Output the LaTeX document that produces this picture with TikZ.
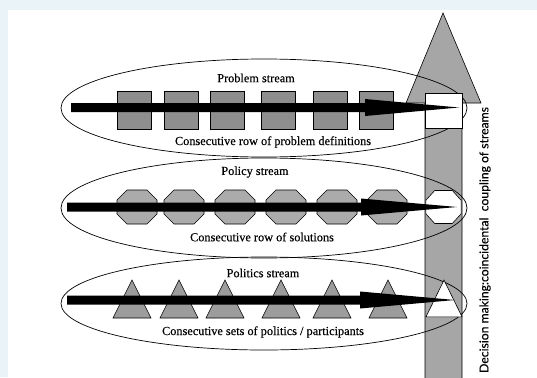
\documentclass[tikz,border=0pt]{standalone}
\usepackage{fontspec}
\setmainfont{Liberation Serif}
\newfontfamily\lblfont{Liberation Serif}[FakeBold=0.3]
\newfontfamily\vfont{Lato}[FakeBold=0.2]
\usetikzlibrary{shapes.geometric,calc}
\definecolor{bgblue}{HTML}{EAF3F7}
\definecolor{bigarrow}{HTML}{A6A6A6}
\definecolor{sqgray}{HTML}{8E8E8E}
\definecolor{octgray}{HTML}{ABABAB}
\definecolor{trigray}{HTML}{9C9C9C}
\tikzset{
  sqr/.pic={\path[pic actions] (-17,-19) rectangle (17,19);},
  oct/.pic={\path[pic actions] (-20,-7) -- (-10,-17) -- (10,-17) -- (20,-7) -- (20,7) -- (10,17) -- (-10,17) -- (-20,7) -- cycle;},
  tri/.pic={\path[pic actions] (-19,19) -- (0,-19) -- (19,19) -- cycle;},
  shp/.style={draw=black, line width=0.6pt},
  stream/.style={ellipse, draw=black, line width=0.7pt, minimum width=406pt, inner sep=0pt},
  lbl/.style={font=\lblfont\fontsize{12.3}{14}\selectfont, inner sep=0pt},
  flow/.style={fill=black},
}
\begin{document}
\begin{tikzpicture}[x=1pt,y=-1pt]
\useasboundingbox (0,0) rectangle (537,377);
\fill[bgblue] (0,0) rectangle (537,377);
\fill[white] (8,10) rectangle (537,377);
% big vertical arrow
\filldraw[fill=bigarrow, draw=black, line width=0.6pt]
  (425,378) -- (425,103) -- (406,103) -- (443,13) -- (481,103) -- (462,103) -- (462,378);
% ellipses
\node[stream, minimum height=98pt] (e1) at (264,108) {};
\node[stream, minimum height=100pt] (e2) at (264,208) {};
\node[stream, minimum height=93pt] (e3) at (264,303.5) {};
% problem squares
\foreach \x [count=\i] in {134,181,227,278,330,376}
  \pic[shp, fill=sqgray] (sq\i) at (\x,110) {sqr};
\pic[shp, fill=white, xscale=1.09, yscale=0.92] (sqw) at (443.5,110.5) {sqr};
% policy octagons
\foreach \x [count=\i] in {137,184,235,286,337,387}
  \pic[shp, fill=octgray] (oc\i) at (\x,207) {oct};
\pic[shp, fill=white, xscale=0.88, yscale=0.97] (ocw) at (443.5,207) {oct};
% politics triangles
\foreach \x [count=\i] in {132,179,225,281,332,388}
  \pic[shp, fill=trigray] (tr\i) at (\x,299) {tri};
\pic[shp, fill=white, xscale=0.95, yscale=0.97] (trw) at (444,298.5) {tri};
% stream arrows
\coordinate (a1s) at (71,107.5);  \coordinate (a1h) at (365,107.5); \coordinate (a1t) at (459,107.5);
\coordinate (a2s) at (67,207);    \coordinate (a2h) at (361,207);   \coordinate (a2t) at (457,207);
\coordinate (a3s) at (67,300);    \coordinate (a3h) at (360,300);   \coordinate (a3t) at (455,300);
\foreach \k in {1,2,3}{
  \fill[flow] ($(a\k s)+(0,-4.5)$) -- ($(a\k h)+(0,-4.5)$) -- ($(a\k h)+(0,-8.5)$) -- (a\k t)
     -- ($(a\k h)+(0,8.5)$) -- ($(a\k h)+(0,4.5)$) -- ($(a\k s)+(0,4.5)$) -- cycle;
}
% labels
\node[lbl] (t1) at (256,78) {Problem stream};
\node[lbl] (b1) at (273,142) {Consecutive row of problem definitions};
\node[lbl] (t2) at (255,172) {Policy stream};
\node[lbl] (b2) at (262,237) {Consecutive row of solutions};
\node[lbl] (t3) at (263,273) {Politics stream};
\node[lbl] (b3) at (263,332) {Consecutive sets of politics / participants};
\node[rotate=90, inner sep=0pt, font=\vfont\fontsize{12.2}{14}\selectfont] (dm) at (485,240)
  {Decision making:coincidental\ \ coupling of streams};
\end{tikzpicture}
\end{document}
